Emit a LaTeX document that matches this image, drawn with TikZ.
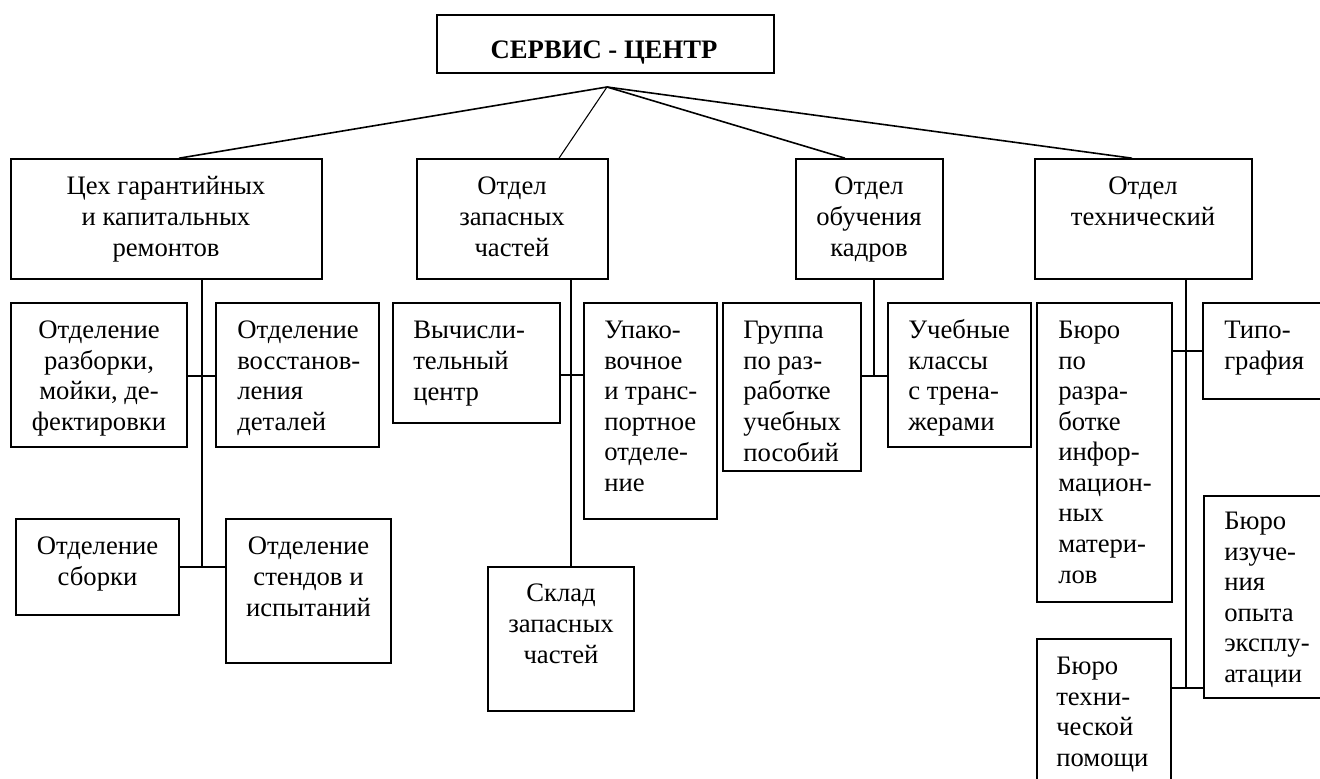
\documentclass[tikz,border=0pt]{standalone}
\usepackage{fontspec}
\setmainfont{Liberation Serif}
\usetikzlibrary{fit}

\tikzset{
  box/.style={draw, line width=1.2pt, inner sep=0pt},
  link/.style={draw, line width=1.2pt},
  thinlink/.style={draw, line width=0.8pt},
  txt/.style={inner sep=0pt, font=\fontsize{20pt}{22.9pt}\selectfont},
  % texts are placed by the baseline of their last line
  ctxt/.style={txt, align=center, anchor=base},
  ltxt/.style={txt, align=left, anchor=base west},
}

\begin{document}
\begin{tikzpicture}[x=0.75pt, y=-0.75pt]
\useasboundingbox (0,0) rectangle (1320,778);
\clip (0,0) rectangle (1320,778);

% top level
\node[box, fit={(437,15) (774,73)}] (top) {};
\node[ctxt, font=\fontsize{20pt}{22.9pt}\selectfont\bfseries] (topT) at (604,58) {СЕРВИС - ЦЕНТР};

% departments
\node[box, fit={(11,159) (322,279)}] (b1) {};
\node[ctxt] (b1T) at (166,256) {Цех гарантийных\\и капитальных\\ремонтов};
\node[box, fit={(417,159) (608,279)}] (b2) {};
\node[ctxt] (b2T) at (512,256) {Отдел\\запасных\\частей};
\node[box, fit={(796,159) (943,279)}] (b3) {};
\node[ctxt] (b3T) at (869,256) {Отдел\\обучения\\кадров};
\node[box, fit={(1035,159) (1252,279)}] (b4) {};
\node[ctxt] (b4T) at (1143,225.5) {Отдел\\технический};

% repair shop units
\node[box, fit={(11,303) (187,447)}] (a1) {};
\node[ctxt] (a1T) at (99,430.5) {Отделение\\разборки,\\мойки, де-\\фектировки};
\node[box, fit={(216,303) (379,447)}] (a2) {};
\node[ltxt] (a2T) at (237,430.5) {Отделение\\восстанов-\\ления\\деталей};
\node[box, fit={(16,519) (179,615)}] (a3) {};
\node[ctxt] (a3T) at (97.5,585.5) {Отделение\\сборки};
\node[box, fit={(226,519) (391,663)}] (a4) {};
\node[ctxt] (a4T) at (308.5,616) {Отделение\\стендов и\\испытаний};

% spare parts units
\node[box, fit={(393,303) (560,423)}] (c1) {};
\node[ltxt] (c1T) at (413,400) {Вычисли-\\тельный\\центр};
\node[box, fit={(584,303) (717,519)}] (c2) {};
\node[ltxt] (c2T) at (604,491.5) {Упако-\\вочное\\и транс-\\портное\\отделе-\\ние};
\node[box, fit={(488,567) (634,711)}] (c3) {};
\node[ctxt] (c3T) at (561,663) {Склад\\запасных\\частей};

% training units
\node[box, fit={(723,303) (861,471)}] (d1) {};
\node[ltxt] (d1T) at (743,461) {Группа\\по раз-\\работке\\учебных\\пособий};
\node[box, fit={(888,303) (1031,447)}] (d2) {};
\node[ltxt] (d2T) at (908,430.5) {Учебные\\классы\\с трена-\\жерами};

% technical units
\node[box, fit={(1037,303) (1172,602)}] (e1) {};
\node[ltxt] (e1T) at (1058,583) {Бюро\\по\\разра-\\ботке\\инфор-\\мацион-\\ных\\матери-\\лов};
\node[box, fit={(1203,303) (1330,399)}] (e2) {};
\node[ltxt] (e2T) at (1224,369.5) {Типо-\\графия};
\node[box, fit={(1204,496) (1330,698)}] (e3) {};
\node[ltxt] (e3T) at (1224,682.5) {Бюро\\изуче-\\ния\\опыта\\эксплу-\\атации};
\node[box, fit={(1037,639) (1171,800)}] (e4) {};
\node[ltxt] (e4T) at (1056,766.5) {Бюро\\техни-\\ческой\\помощи};

% fan-out from the head office
\coordinate (hub) at (607,87);
\coordinate (t1) at (179,0);
\coordinate (t2) at (559,0);
\coordinate (t3) at (845,0);
\coordinate (t4) at (1132,0);
\draw[link] (hub) -- (b1.north -| t1);
\draw[thinlink] (hub) -- (b2.north -| t2);
\draw[link] (hub) -- (b3.north -| t3);
\draw[link] (hub) -- (b4.north -| t4);

% repair shop branch
\coordinate (ja) at (202,376);
\coordinate (jb) at (202,567);
\draw[link] (b1.south -| jb) -- (jb);
\draw[link] (a1.east |- ja) -- (a2.west |- ja);
\draw[link] (a3.east |- jb) -- (a4.west |- jb);

% spare parts branch
\coordinate (jc) at (571,375);
\draw[link] (b2.south -| jc) -- (c3.north -| jc);
\draw[link] (c1.east |- jc) -- (c2.west |- jc);

% training branch
\coordinate (jd) at (874,376);
\draw[link] (b3.south -| jd) -- (jd);
\draw[link] (d1.east |- jd) -- (d2.west |- jd);

% technical branch
\coordinate (je) at (1186,351);
\coordinate (jf) at (1186,688);
\draw[link] (b4.south -| jf) -- (jf);
\draw[link] (e1.east |- je) -- (e2.west |- je);
\draw[link] (e4.east |- jf) -- (e3.west |- jf);
\end{tikzpicture}
\end{document}
